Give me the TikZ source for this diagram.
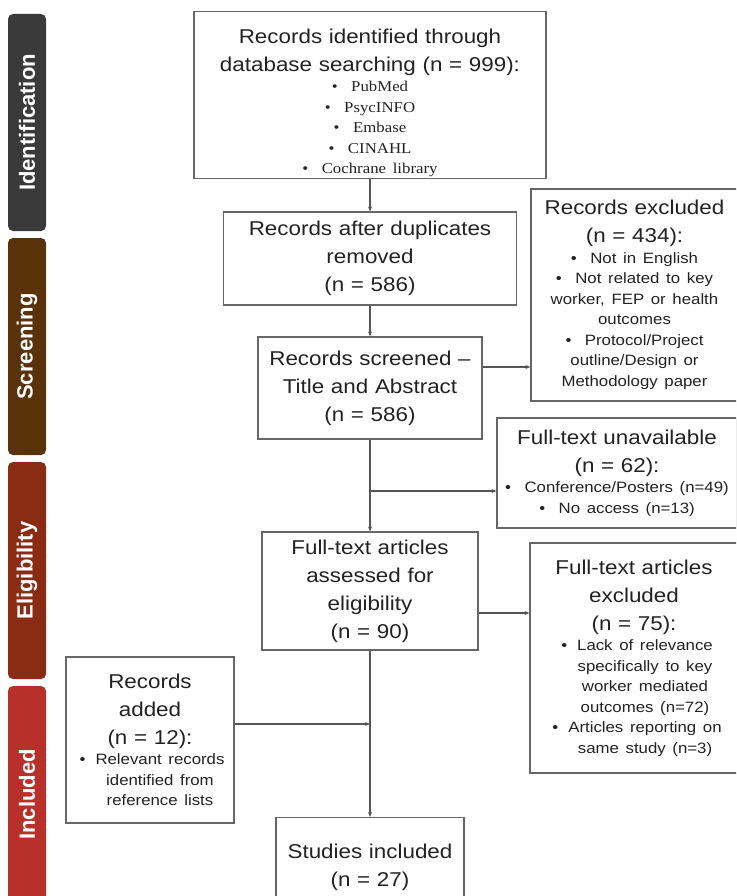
\documentclass[tikz,border=0pt]{standalone}
\usepackage{fontspec}
\setmainfont[FakeStretch=1.12]{Liberation Sans}
\newfontfamily\bulletserif[FakeStretch=1.12]{Liberation Serif}
\newfontfamily\barfont{Liberation Sans}
\usetikzlibrary{arrows.meta}
\definecolor{idgray}{HTML}{3A3A3A}
\definecolor{scbrown}{HTML}{5A3209}
\definecolor{elred}{HTML}{8A2B13}
\definecolor{inred}{HTML}{B8302A}
\definecolor{boxgray}{HTML}{666666}
\definecolor{linegray}{HTML}{555555}
\definecolor{textgray}{HTML}{222222}
\newcommand{\bigtxt}{\fontsize{20}{28}\selectfont}
\newcommand{\smalltxt}{\fontsize{15}{20.5}\selectfont}
\newcommand{\hb}{\llap{\textbullet\hspace{10pt}}}
\newcommand{\cb}{\textbullet\hspace{0.9em}}
\tikzset{box/.style={draw=boxgray,line width=1.1pt,align=center,text=textgray,inner xsep=3pt,inner ysep=2pt,font=\bigtxt},
    bar/.style={rounded corners=5pt,rotate=90,text=white,font=\barfont\bfseries\fontsize{22}{22}\selectfont,minimum width=217pt,minimum height=38pt,inner sep=0pt},
    arr/.style={draw=linegray,line width=1.1pt,-{Stealth[length=5pt,width=4pt]}}}

\begin{document}
\begin{tikzpicture}[x=1pt,y=1pt]
        \useasboundingbox (0,0) rectangle (736,-896);
        \clip (0,0) rectangle (736,-896);
        % phase bars
        \foreach \name/\col [count=\i from 0] in {Identification/idgray,Screening/scbrown,Eligibility/elred,Included/inred}
            \node[bar,fill=\col] (bar\i) at (27,-122.5-224*\i) {\name};
        % main column
        \node[box,text width=346pt,minimum height=166pt] (ident) at (370,-95)
            {\rule{0pt}{30pt}Records identified through\\database searching (n = 999):\par
             \bulletserif\smalltxt \cb PubMed\\\cb PsycINFO\\\cb Embase\\\cb CINAHL\\\cb Cochrane library\par};
        \node[box,text width=287pt,minimum height=93pt] (dup) at (370,-258.5)
            {Records after duplicates\\removed\\(n = 586)};
        \node[box,text width=218pt,minimum height=102pt] (screen) at (370,-388)
            {Records screened --\\Title and Abstract\\(n = 586)};
        \node[box,text width=210pt,minimum height=118pt] (elig) at (370,-591)
            {Full-text articles\\assessed for\\eligibility\\(n = 90)};
        \node[box,text width=182pt,minimum height=100pt,anchor=north] (studies) at (370,-817)
            {Studies included\\(n = 27)\\[52pt]};
        % side boxes
        \node[box,text width=201pt,minimum height=212pt] (excl) at (634.5,-295)
            {Records excluded\\(n = 434):\par
             \smalltxt \cb Not in English\\\cb Not related to key\\worker, FEP or health\\outcomes\\\cb Protocol/Project\\outline/Design or\\Methodology paper\par};
        \node[box,text width=234pt,minimum height=110pt] (unavail) at (617,-473)
            {Full-text unavailable\\(n = 62):\par
             \smalltxt \cb Conference/Posters (n=49)\\\cb No access (n=13)\par};
        \node[box,text width=202pt,minimum height=230pt] (excltwo) at (634,-658)
            {Full-text articles\\excluded\\(n = 75):\par
             \smalltxt \hspace*{22pt}\hb Lack of relevance\\\hspace*{22pt}specifically to key\\\hspace*{22pt}worker mediated\\\hspace*{22pt}outcomes (n=72)\\\hspace*{22pt}\hb Articles reporting on\\\hspace*{22pt}same study (n=3)\par};
        \node[box,text width=162pt,minimum height=166pt] (added) at (150,-740)
            {Records\\added\\(n = 12):\par
             \smalltxt \hspace*{20pt}\hb Relevant records\\\hspace*{20pt}identified from\\\hspace*{20pt}reference lists\par};
        % connectors
        \coordinate (jscr) at (370,-367);
        \coordinate (jfull) at (370,-491);
        \coordinate (jelig) at (370,-613);
        \coordinate (jadd) at (370,-724);
        \draw[arr] (ident.south) -- (dup.north);
        \draw[arr] (dup.south) -- (screen.north);
        \draw[arr] (screen.south) -- (elig.north);
        \draw[arr] (elig.south) -- (studies.north);
        \draw[arr] (jscr -| screen.east) -- (jscr -| excl.west);
        \draw[arr] (jfull) -- (jfull -| unavail.west);
        \draw[arr] (jelig -| elig.east) -- (jelig -| excltwo.west);
        \draw[arr] (jadd -| added.east) -- (jadd);
    \end{tikzpicture}
\end{document}
